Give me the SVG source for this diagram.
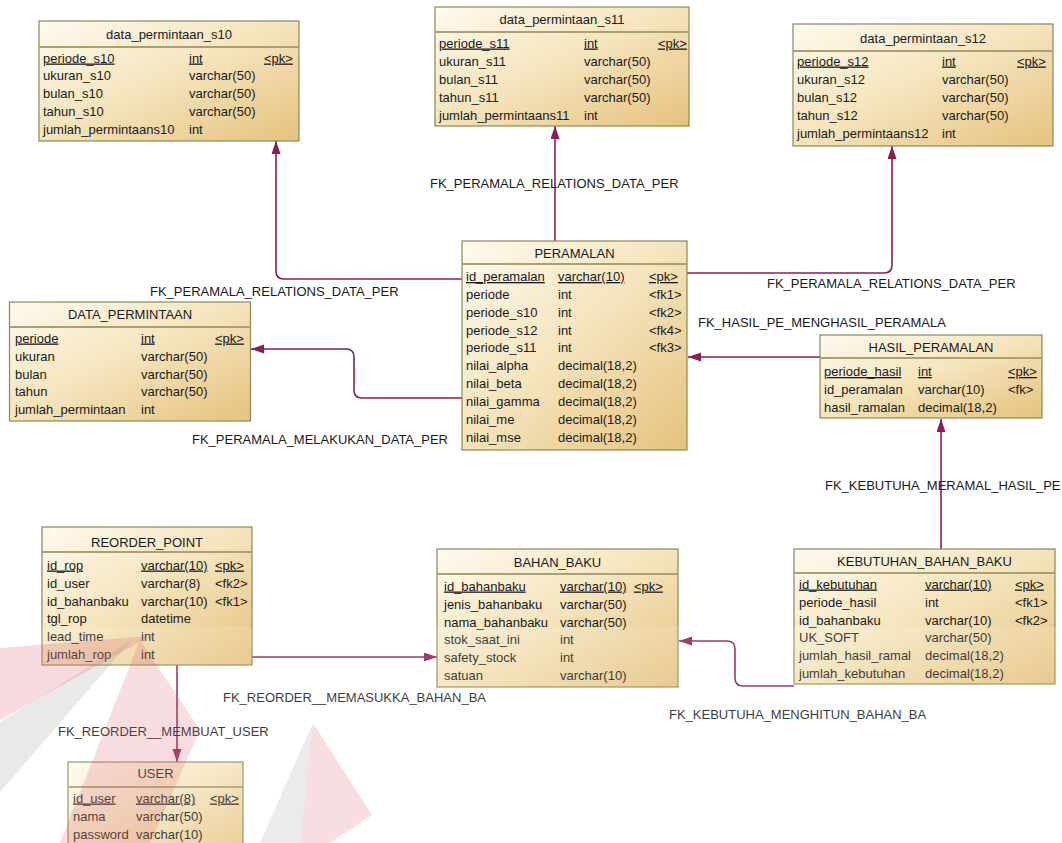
<svg xmlns="http://www.w3.org/2000/svg" width="1062" height="843" viewBox="0 0 1062 843">
  <style>
    .tbl { fill: url(#tableFill); stroke: #8c8858; stroke-width: 1.2; }
    .sep { stroke: #a8a272; stroke-width: 2; }
    text { font-family: "Liberation Sans", Arial, sans-serif; font-size: 13px; fill: #1a1a1a; }
    .title { text-anchor: middle; font-size: 13px; }
    .pk { text-decoration: underline; }
    .fk { font-size: 13px; fill: #1a1a1a; }
    .conn { fill: none; stroke: #8e1b51; stroke-width: 1.6; marker-end: url(#arrow); }
  </style>
  <defs>
    <linearGradient id="tableFill" x1="0" y1="0" x2="1" y2="1">
      <stop offset="0" stop-color="#fefaee"/>
      <stop offset="0.45" stop-color="#f6e6c0"/>
      <stop offset="1" stop-color="#e6c27e"/>
    </linearGradient>
    <marker id="arrow" markerUnits="userSpaceOnUse" markerWidth="14" markerHeight="10" refX="13" refY="4.5" orient="auto">
      <path d="M0,0 L13,4.5 L0,9 Z" fill="#8e1b51"/>
    </marker>
  </defs>

  <rect width="1062" height="843" fill="#ffffff"/>

  <!-- references between tables -->
  <g id="connectors">
    <path class="conn" d="M462,279 H284 Q276,279 276,271 V141"/>
    <path class="conn" d="M555,241 V126"/>
    <path class="conn" d="M687,273 H884 Q892,273 892,265 V146"/>
    <path class="conn" d="M462,398 H362 Q354,398 354,390 V357 Q354,349 346,349 H251"/>
    <path class="conn" d="M820,357 H688"/>
    <path class="conn" d="M941,549 V419"/>
    <path class="conn" d="M794,686 H743 Q735,686 735,678 V649 Q735,641 727,641 H679"/>
    <path class="conn" d="M252,657 H437"/>
    <path class="conn" d="M177,665 V762"/>
  </g>

  <g id="labels">
    <text class="fk" x="430" y="188">FK_PERAMALA_RELATIONS_DATA_PER</text>
    <text class="fk" x="150" y="296">FK_PERAMALA_RELATIONS_DATA_PER</text>
    <text class="fk" x="767" y="288">FK_PERAMALA_RELATIONS_DATA_PER</text>
    <text class="fk" x="698" y="327">FK_HASIL_PE_MENGHASIL_PERAMALA</text>
    <text class="fk" x="192" y="444">FK_PERAMALA_MELAKUKAN_DATA_PER</text>
    <text class="fk" x="825" y="490">FK_KEBUTUHA_MERAMAL_HASIL_PE</text>
    <text class="fk" x="223" y="702">FK_REORDER__MEMASUKKA_BAHAN_BA</text>
    <text class="fk" x="669" y="719">FK_KEBUTUHA_MENGHITUN_BAHAN_BA</text>
    <text class="fk" x="58" y="736">FK_REORDER__MEMBUAT_USER</text>
  </g>

  <g id="data_permintaan_s10">
    <rect class="tbl" x="39" y="21" width="260" height="120"/>
    <line class="sep" x1="39" y1="47" x2="299" y2="47"/>
    <text class="title" x="169" y="38.5">data_permintaan_s10</text>
    <text class="pk" x="43" y="62.5">periode_s10</text><text class="pk" x="189" y="62.5">int</text><text class="pk" x="264" y="62.5">&lt;pk&gt;</text>
    <text x="43" y="80">ukuran_s10</text><text x="189" y="80">varchar(50)</text>
    <text x="43" y="98">bulan_s10</text><text x="189" y="98">varchar(50)</text>
    <text x="43" y="115.5">tahun_s10</text><text x="189" y="115.5">varchar(50)</text>
    <text x="43" y="133.5">jumlah_permintaans10</text><text x="189" y="133.5">int</text>
  </g>

  <g id="data_permintaan_s11">
    <rect class="tbl" x="435" y="7" width="254" height="119"/>
    <line class="sep" x1="435" y1="32" x2="689" y2="32"/>
    <text class="title" x="562" y="24">data_permintaan_s11</text>
    <text class="pk" x="439" y="47.5">periode_s11</text><text class="pk" x="584" y="47.5">int</text><text class="pk" x="658" y="47.5">&lt;pk&gt;</text>
    <text x="439" y="65.5">ukuran_s11</text><text x="584" y="65.5">varchar(50)</text>
    <text x="439" y="83.5">bulan_s11</text><text x="584" y="83.5">varchar(50)</text>
    <text x="439" y="101.5">tahun_s11</text><text x="584" y="101.5">varchar(50)</text>
    <text x="439" y="119.5">jumlah_permintaans11</text><text x="584" y="119.5">int</text>
  </g>

  <g id="data_permintaan_s12">
    <rect class="tbl" x="793" y="24" width="260" height="122"/>
    <line class="sep" x1="793" y1="51" x2="1053" y2="51"/>
    <text class="title" x="923" y="43">data_permintaan_s12</text>
    <text class="pk" x="797" y="65.5">periode_s12</text><text class="pk" x="942" y="65.5">int</text><text class="pk" x="1017" y="65.5">&lt;pk&gt;</text>
    <text x="797" y="83.5">ukuran_s12</text><text x="942" y="83.5">varchar(50)</text>
    <text x="797" y="101.5">bulan_s12</text><text x="942" y="101.5">varchar(50)</text>
    <text x="797" y="119.5">tahun_s12</text><text x="942" y="119.5">varchar(50)</text>
    <text x="797" y="137.5">jumlah_permintaans12</text><text x="942" y="137.5">int</text>
  </g>

  <g id="PERAMALAN">
    <rect class="tbl" x="462" y="241" width="225" height="209"/>
    <line class="sep" x1="462" y1="264" x2="687" y2="264"/>
    <text class="title" x="574.5" y="257.5">PERAMALAN</text>
    <text class="pk" x="466" y="281">id_peramalan</text><text class="pk" x="558" y="281">varchar(10)</text><text class="pk" x="649" y="281">&lt;pk&gt;</text>
    <text x="466" y="299">periode</text><text x="558" y="299">int</text><text x="649" y="299">&lt;fk1&gt;</text>
    <text x="466" y="317">periode_s10</text><text x="558" y="317">int</text><text x="649" y="317">&lt;fk2&gt;</text>
    <text x="466" y="334.5">periode_s12</text><text x="558" y="334.5">int</text><text x="649" y="334.5">&lt;fk4&gt;</text>
    <text x="466" y="352">periode_s11</text><text x="558" y="352">int</text><text x="649" y="352">&lt;fk3&gt;</text>
    <text x="466" y="370">nilai_alpha</text><text x="558" y="370">decimal(18,2)</text>
    <text x="466" y="388">nilai_beta</text><text x="558" y="388">decimal(18,2)</text>
    <text x="466" y="406">nilai_gamma</text><text x="558" y="406">decimal(18,2)</text>
    <text x="466" y="423.5">nilai_me</text><text x="558" y="423.5">decimal(18,2)</text>
    <text x="466" y="441.5">nilai_mse</text><text x="558" y="441.5">decimal(18,2)</text>
  </g>

  <g id="DATA_PERMINTAAN">
    <rect class="tbl" x="9.5" y="302" width="241" height="119"/>
    <line class="sep" x1="9.5" y1="327" x2="250.5" y2="327"/>
    <text class="title" x="130" y="318.5">DATA_PERMINTAAN</text>
    <text class="pk" x="15" y="342.5">periode</text><text class="pk" x="141" y="342.5">int</text><text class="pk" x="215" y="342.5">&lt;pk&gt;</text>
    <text x="15" y="360.5">ukuran</text><text x="141" y="360.5">varchar(50)</text>
    <text x="15" y="378.5">bulan</text><text x="141" y="378.5">varchar(50)</text>
    <text x="15" y="396">tahun</text><text x="141" y="396">varchar(50)</text>
    <text x="15" y="413.5">jumlah_permintaan</text><text x="141" y="413.5">int</text>
  </g>

  <g id="HASIL_PERAMALAN">
    <rect class="tbl" x="820" y="335" width="222" height="83"/>
    <line class="sep" x1="820" y1="358" x2="1042" y2="358"/>
    <text class="title" x="931" y="351.5">HASIL_PERAMALAN</text>
    <text class="pk" x="824" y="376">periode_hasil</text><text class="pk" x="918" y="376">int</text><text class="pk" x="1008" y="376">&lt;pk&gt;</text>
    <text x="824" y="394">id_peramalan</text><text x="918" y="394">varchar(10)</text><text x="1008" y="394">&lt;fk&gt;</text>
    <text x="824" y="412">hasil_ramalan</text><text x="918" y="412">decimal(18,2)</text>
  </g>

  <g id="REORDER_POINT">
    <rect class="tbl" x="42" y="527" width="210" height="138"/>
    <line class="sep" x1="42" y1="552" x2="252" y2="552"/>
    <text class="title" x="147" y="546.5">REORDER_POINT</text>
    <text class="pk" x="47" y="569.5">id_rop</text><text class="pk" x="141" y="569.5">varchar(10)</text><text class="pk" x="215" y="569.5">&lt;pk&gt;</text>
    <text x="47" y="587.5">id_user</text><text x="141" y="587.5">varchar(8)</text><text x="215" y="587.5">&lt;fk2&gt;</text>
    <text x="47" y="605.5">id_bahanbaku</text><text x="141" y="605.5">varchar(10)</text><text x="215" y="605.5">&lt;fk1&gt;</text>
    <text x="47" y="623">tgl_rop</text><text x="141" y="623">datetime</text>
    <text x="47" y="641">lead_time</text><text x="141" y="641">int</text>
    <text x="47" y="659">jumlah_rop</text><text x="141" y="659">int</text>
  </g>

  <g id="BAHAN_BAKU">
    <rect class="tbl" x="437" y="549" width="241" height="138"/>
    <line class="sep" x1="437" y1="574" x2="678" y2="574"/>
    <text class="title" x="557.5" y="566.5">BAHAN_BAKU</text>
    <text class="pk" x="444" y="590.5">id_bahanbaku</text><text class="pk" x="560" y="590.5">varchar(10)</text><text class="pk" x="634" y="590.5">&lt;pk&gt;</text>
    <text x="444" y="608.5">jenis_bahanbaku</text><text x="560" y="608.5">varchar(50)</text>
    <text x="444" y="626.5">nama_bahanbaku</text><text x="560" y="626.5">varchar(50)</text>
    <text x="444" y="644">stok_saat_ini</text><text x="560" y="644">int</text>
    <text x="444" y="662">safety_stock</text><text x="560" y="662">int</text>
    <text x="444" y="680">satuan</text><text x="560" y="680">varchar(10)</text>
  </g>

  <g id="KEBUTUHAN_BAHAN_BAKU">
    <rect class="tbl" x="794" y="549" width="261" height="135"/>
    <line class="sep" x1="794" y1="573" x2="1055" y2="573"/>
    <text class="title" x="924.5" y="565.5">KEBUTUHAN_BAHAN_BAKU</text>
    <text class="pk" x="799" y="588.5">id_kebutuhan</text><text class="pk" x="925" y="588.5">varchar(10)</text><text class="pk" x="1015" y="588.5">&lt;pk&gt;</text>
    <text x="799" y="606.5">periode_hasil</text><text x="925" y="606.5">int</text><text x="1015" y="606.5">&lt;fk1&gt;</text>
    <text x="799" y="624.5">id_bahanbaku</text><text x="925" y="624.5">varchar(10)</text><text x="1015" y="624.5">&lt;fk2&gt;</text>
    <text x="799" y="642">UK_SOFT</text><text x="925" y="642">varchar(50)</text>
    <text x="799" y="660">jumlah_hasil_ramal</text><text x="925" y="660">decimal(18,2)</text>
    <text x="799" y="677.5">jumlah_kebutuhan</text><text x="925" y="677.5">decimal(18,2)</text>
  </g>

  <g id="USER">
    <rect class="tbl" x="68" y="762" width="175" height="100"/>
    <line class="sep" x1="68" y1="787" x2="243" y2="787"/>
    <text class="title" x="155.5" y="777.5">USER</text>
    <text class="pk" x="73" y="802.5">id_user</text><text class="pk" x="136" y="802.5">varchar(8)</text><text class="pk" x="210" y="802.5">&lt;pk&gt;</text>
    <text x="73" y="820.5">nama</text><text x="136" y="820.5">varchar(50)</text>
    <text x="73" y="838.5">password</text><text x="136" y="838.5">varchar(10)</text>
  </g>

  <!-- translucent watermark layer over the lower part of the sheet -->
  <g id="watermark" pointer-events="none">
    <rect x="0" y="627" width="1062" height="216" fill="#ffffff" opacity="0.14"/>
    <polygon points="0,648 150,636 0,720" fill="#d8485a" opacity="0.2"/>
    <polygon points="0,722 132,640 0,792" fill="#9a9a9a" opacity="0.22"/>
    <polygon points="140,640 200,730 150,843 60,843" fill="#d8485a" opacity="0.18"/>
    <polygon points="313,723 372,815 330,843 300,843" fill="#d8485a" opacity="0.18"/>
    <polygon points="313,723 300,843 260,843" fill="#9a9a9a" opacity="0.2"/>
  </g>
</svg>
